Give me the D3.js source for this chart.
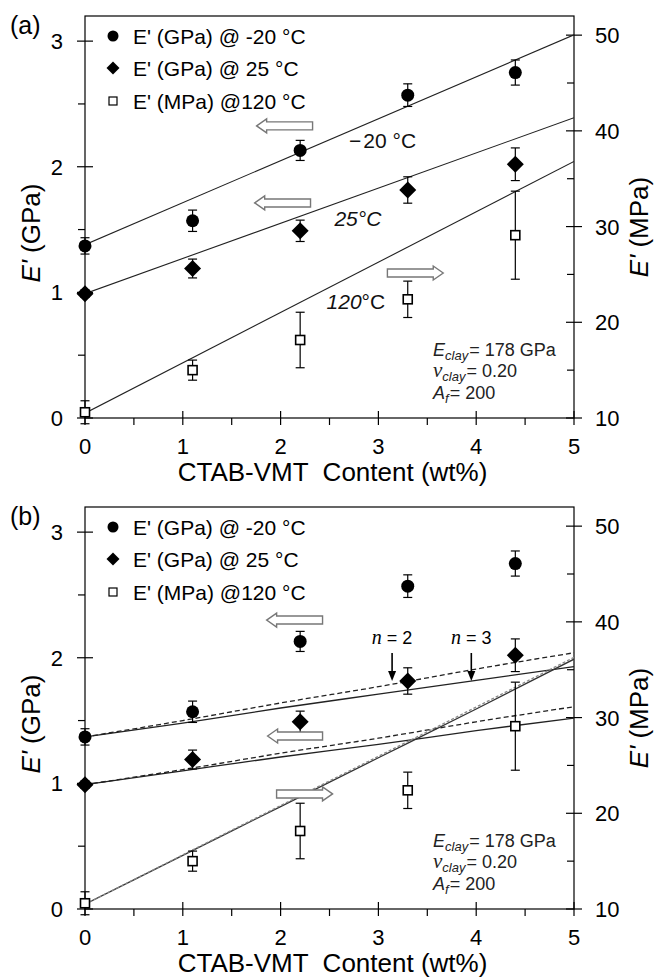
<!DOCTYPE html>
<html><head><meta charset="utf-8">
<script src="https://cdn.jsdelivr.net/npm/d3@7"></script>
<style>body{margin:0;background:#fff}</style>
</head><body>
<svg id="c" width="654" height="977" xmlns="http://www.w3.org/2000/svg"></svg>
<script>
// ---------- data ----------
const contentWt = [0, 1.1, 2.2, 3.3, 4.4];
const e20 = [1.37, 1.57, 2.13, 2.57, 2.75];          // GPa
const e20Err = [0.065, 0.085, 0.08, 0.09, 0.10];
const e25 = [0.99, 1.19, 1.49, 1.815, 2.02];          // GPa
const e25Err = [0.03, 0.075, 0.085, 0.105, 0.13];
const e120 = [10.6, 15.0, 18.15, 22.4, 29.1];         // MPa
const e120Err = [1.2, 1.05, 2.9, 1.9, 4.6];

// panel (a) model lines
const fitX = [0, 5];
const fit20 = [1.38, 3.05];
const fit25 = [0.99, 2.39];
const fit120 = [10.5, 36.8];

// panel (b) model curves: n = 2 (dashed), n = 3 (solid)
const modelX = [0, 1, 2, 3, 4, 5];
const n2_20 = [1.37, 1.50, 1.64, 1.77, 1.91, 2.04];
const n3_20 = [1.37, 1.48, 1.60, 1.71, 1.82, 1.93];
const n2_25 = [0.99, 1.11, 1.24, 1.36, 1.49, 1.61];
const n3_25 = [0.99, 1.10, 1.21, 1.31, 1.42, 1.52];
const n2_120 = [10.5, 15.65, 20.8, 25.95, 31.1, 36.3];
const n3_120 = [10.5, 15.6, 20.7, 25.8, 30.9, 36.1];

const xTicks = [0, 1, 2, 3, 4, 5];
const xMinor = [0.5, 1.5, 2.5, 3.5, 4.5];
const yLeftTicks = [0, 1, 2, 3];
const yLeftMinor = [0.5, 1.5, 2.5];
const yRightTicks = [10, 20, 30, 40, 50];
const yRightMinor = [15, 25, 35, 45];
const legendLabels = ["E' (GPa) @ -20 \u00B0C", "E' (GPa) @ 25 \u00B0C", "E' (MPa) @120 \u00B0C"];
const xTitle = "CTAB-VMT  Content (wt%)";

// ---------- drawing ----------
const SANS = "Arial, 'Liberation Sans', sans-serif";
const SERIF = "'Times New Roman', 'Liberation Serif', serif";
const svg = d3.select("#c");
const L = 85, R = 574, H = 402;

function diamondPath(h) { return `M0,${-h}L${h},0L0,${h}L${-h},0Z`; }

function blockArrow(g, x0, x1, y, dir) {
  const bh = 4, hh = 7, hl = 10;
  let pts;
  if (dir < 0) {
    pts = [[x0, y], [x0 + hl, y - hh], [x0 + hl, y - bh], [x1, y - bh], [x1, y + bh], [x0 + hl, y + bh], [x0 + hl, y + hh]];
  } else {
    pts = [[x1, y], [x1 - hl, y - hh], [x1 - hl, y - bh], [x0, y - bh], [x0, y + bh], [x1 - hl, y + bh], [x1 - hl, y + hh]];
  }
  g.append("path").attr("d", d3.line()(pts) + "Z")
    .attr("fill", "#fff").attr("stroke", "#777").attr("stroke-width", 1.4);
}

function drawPanel(top, label, mode) {
  const g = svg.append("g");
  const x = d3.scaleLinear().domain([0, 5]).range([L, R]);
  const yL = d3.scaleLinear().domain([0, 3.2]).range([top + H, top]);
  const yR = d3.scaleLinear().domain([10, 52]).range([top + H, top]);
  const bottom = top + H;

  const clipId = "clip" + label.replace(/[()]/g, "");
  svg.append("clipPath").attr("id", clipId).append("rect")
    .attr("x", L).attr("y", top).attr("width", R - L).attr("height", H);

  g.append("rect").attr("x", L).attr("y", top).attr("width", R - L).attr("height", H)
    .attr("fill", "none").attr("stroke", "#000").attr("stroke-width", 1.2);

  const tk = g.append("g").attr("stroke", "#000").attr("stroke-width", 1.2);
  xTicks.forEach(v => tk.append("line").attr("x1", x(v)).attr("x2", x(v)).attr("y1", bottom - 7).attr("y2", bottom + 7));
  xMinor.forEach(v => tk.append("line").attr("x1", x(v)).attr("x2", x(v)).attr("y1", bottom).attr("y2", bottom + 7));
  yLeftTicks.forEach(v => tk.append("line").attr("x1", L - 8).attr("x2", L + 8).attr("y1", yL(v)).attr("y2", yL(v)));
  yLeftMinor.forEach(v => tk.append("line").attr("x1", L - 7).attr("x2", L).attr("y1", yL(v)).attr("y2", yL(v)));
  yRightTicks.forEach(v => tk.append("line").attr("x1", R - 8).attr("x2", R + 8).attr("y1", yR(v)).attr("y2", yR(v)));
  yRightMinor.forEach(v => tk.append("line").attr("x1", R - 7).attr("x2", R).attr("y1", yR(v)).attr("y2", yR(v)));

  const tl = g.append("g").attr("font-family", SANS).attr("font-size", 22).attr("fill", "#000");
  xTicks.forEach(v => tl.append("text").attr("x", x(v)).attr("y", bottom + 36).attr("text-anchor", "middle").text(v));
  yLeftTicks.forEach(v => tl.append("text").attr("x", L - 22).attr("y", yL(v) + 8).attr("text-anchor", "end").text(v));
  yRightTicks.forEach(v => tl.append("text").attr("x", R + 21).attr("y", yR(v) + 8).attr("text-anchor", "start").text(v));

  g.append("text").attr("x", (L + R) / 2 + 3).attr("y", bottom + 63).attr("text-anchor", "middle")
    .attr("font-family", SANS).attr("font-size", 26).style("white-space", "pre").text(xTitle);
  const lt = g.append("text").attr("transform", `translate(40,${top + 217}) rotate(-90)`)
    .attr("text-anchor", "middle").attr("font-family", SANS).attr("font-size", 26);
  lt.append("tspan").attr("font-style", "italic").text("E'");
  lt.append("tspan").text(" (GPa)");
  const rt = g.append("text").attr("transform", `translate(648,${top + 211}) rotate(-90)`)
    .attr("text-anchor", "middle").attr("font-family", SANS).attr("font-size", 26);
  rt.append("tspan").attr("font-style", "italic").text("E'");
  rt.append("tspan").text(" (MPa)");

  g.append("text").attr("x", 10).attr("y", top + 18).attr("font-family", SANS).attr("font-size", 25).text(label);

  const lines = g.append("g").attr("clip-path", `url(#${clipId})`).attr("fill", "none");
  if (mode === "a") {
    const lineL = d3.line().x((d, i) => x(fitX[i])).y(d => yL(d));
    const lineR = d3.line().x((d, i) => x(fitX[i])).y(d => yR(d));
    lines.append("path").attr("d", lineL(fit20)).attr("stroke", "#222").attr("stroke-width", 1.1);
    lines.append("path").attr("d", lineL(fit25)).attr("stroke", "#222").attr("stroke-width", 1.1);
    lines.append("path").attr("d", lineR(fit120)).attr("stroke", "#222").attr("stroke-width", 1.1);
  } else {
    const cL = d3.line().x((d, i) => x(modelX[i])).y(d => yL(d)).curve(d3.curveMonotoneX);
    const cR = d3.line().x((d, i) => x(modelX[i])).y(d => yR(d)).curve(d3.curveMonotoneX);
    lines.append("path").attr("d", cL(n3_20)).attr("stroke", "#222").attr("stroke-width", 1.3);
    lines.append("path").attr("d", cL(n2_20)).attr("stroke", "#222").attr("stroke-width", 1.3).attr("stroke-dasharray", "5,3");
    lines.append("path").attr("d", cL(n3_25)).attr("stroke", "#222").attr("stroke-width", 1.3);
    lines.append("path").attr("d", cL(n2_25)).attr("stroke", "#222").attr("stroke-width", 1.3).attr("stroke-dasharray", "5,3");
    lines.append("path").attr("d", cR(n3_120)).attr("stroke", "#333").attr("stroke-width", 1.3);
    lines.append("path").attr("d", cR(n2_120)).attr("stroke", "#888").attr("stroke-width", 1.3).attr("stroke-dasharray", "3,2");
  }

  const eb = g.append("g").attr("stroke", "#000").attr("stroke-width", 1.2);
  function errBars(vals, errs, ys) {
    vals.forEach((v, i) => {
      const cx = x(contentWt[i]), y1 = ys(v - errs[i]), y2 = ys(v + errs[i]);
      eb.append("line").attr("x1", cx).attr("x2", cx).attr("y1", y1).attr("y2", y2);
      eb.append("line").attr("x1", cx - 4.5).attr("x2", cx + 4.5).attr("y1", y1).attr("y2", y1);
      eb.append("line").attr("x1", cx - 4.5).attr("x2", cx + 4.5).attr("y1", y2).attr("y2", y2);
    });
  }
  errBars(e20, e20Err, yL);
  errBars(e25, e25Err, yL);
  errBars(e120, e120Err, yR);

  const mk = g.append("g");
  e20.forEach((v, i) => mk.append("circle").attr("cx", x(contentWt[i])).attr("cy", yL(v)).attr("r", 6.5).attr("fill", "#000"));
  e25.forEach((v, i) => mk.append("path").attr("d", diamondPath(8.5))
    .attr("transform", `translate(${x(contentWt[i])},${yL(v)})`).attr("fill", "#000"));
  e120.forEach((v, i) => mk.append("rect").attr("x", x(contentWt[i]) - 4.5).attr("y", yR(v) - 4.5)
    .attr("width", 9).attr("height", 9).attr("fill", "#fff").attr("stroke", "#000").attr("stroke-width", 1.6));

  const lg = g.append("g").attr("font-family", SANS).attr("font-size", 21);
  const rowY = [top + 20, top + 52, top + 85];
  lg.append("circle").attr("cx", 113).attr("cy", rowY[0]).attr("r", 5.5).attr("fill", "#000");
  lg.append("path").attr("d", diamondPath(6.5)).attr("transform", `translate(113,${rowY[1]})`).attr("fill", "#000");
  lg.append("rect").attr("x", 109).attr("y", rowY[2] - 4).attr("width", 8).attr("height", 8)
    .attr("fill", "#fff").attr("stroke", "#000").attr("stroke-width", 1.2);
  legendLabels.forEach((t, i) => lg.append("text").attr("x", 133).attr("y", rowY[i] + 7.5).text(t));

  const pt = g.append("g").attr("font-family", SANS).attr("font-size", 18).attr("fill", "#222");
  const t1 = pt.append("text").attr("x", 433).attr("y", bottom - 62);
  t1.append("tspan").attr("font-style", "italic").text("E");
  t1.append("tspan").attr("font-style", "italic").attr("font-size", 13).attr("dy", 4).text("clay");
  t1.append("tspan").attr("dy", -4).attr("dx", 1).text("= 178 GPa");
  const t2 = pt.append("text").attr("x", 433).attr("y", bottom - 41);
  t2.append("tspan").attr("font-family", SERIF).attr("font-style", "italic").attr("font-size", 21).text("\u03BD");
  t2.append("tspan").attr("font-style", "italic").attr("font-size", 13).attr("dy", 4).text("clay");
  t2.append("tspan").attr("dy", -4).attr("dx", 1).text("= 0.20");
  const t3 = pt.append("text").attr("x", 433).attr("y", bottom - 19);
  t3.append("tspan").attr("font-style", "italic").text("A");
  t3.append("tspan").attr("font-style", "italic").attr("font-size", 13).attr("dy", 4).text("f");
  t3.append("tspan").attr("dy", -4).attr("dx", 1).text("= 200");

  return { g, x, yL, yR, top, bottom };
}

// ---------- panel (a) ----------
const A = drawPanel(16, "(a)", "a");
{
  const { g, x, yL } = A;
  blockArrow(g, x(1.755), x(2.327), yL(2.325), -1);
  blockArrow(g, x(1.735), x(2.306), yL(1.712), -1);
  blockArrow(g, x(3.092), x(3.663), yL(1.154), 1);
  const t = g.append("g").attr("font-family", SANS).attr("font-size", 21).attr("fill", "#111");
  const tm = t.append("text").attr("x", x(2.7)).attr("y", yL(2.15));
  tm.append("tspan").text("\u2212");
  tm.append("tspan").attr("dx", 2).text("20 \u00B0C");
  t.append("text").attr("x", x(2.55)).attr("y", yL(1.53)).attr("font-style", "italic").text("25\u00B0C");
  const t120 = t.append("text").attr("x", x(2.47)).attr("y", yL(0.87));
  t120.append("tspan").attr("font-style", "italic").text("120");
  t120.append("tspan").text("\u00B0C");
}

// ---------- panel (b) ----------
const B = drawPanel(507, "(b)", "b");
{
  const { g, x, yL } = B;
  blockArrow(g, x(1.857), x(2.429), yL(2.30), -1);
  blockArrow(g, x(1.867), x(2.429), yL(1.377), -1);
  blockArrow(g, x(1.959), x(2.531), yL(0.916), 1);
  const nl = [{ xv: 3.14, yv: 1.815, lab: "2" }, { xv: 3.95, yv: 1.815, lab: "3" }];
  nl.forEach(d => {
    const cx = x(d.xv), tipY = yL(d.yv);
    g.append("line").attr("x1", cx).attr("x2", cx).attr("y1", tipY - 28).attr("y2", tipY - 8)
      .attr("stroke", "#000").attr("stroke-width", 1.6);
    g.append("path").attr("d", `M${cx - 4},${tipY - 10}L${cx + 4},${tipY - 10}L${cx},${tipY}Z`).attr("fill", "#000");
    const t = g.append("text").attr("x", cx).attr("y", tipY - 37).attr("text-anchor", "middle")
      .attr("font-family", SANS).attr("font-size", 18);
    t.append("tspan").attr("font-family", SERIF).attr("font-style", "italic").attr("font-size", 20).text("n");
    t.append("tspan").text(" = " + d.lab);
  });
}
</script>
</body></html>
